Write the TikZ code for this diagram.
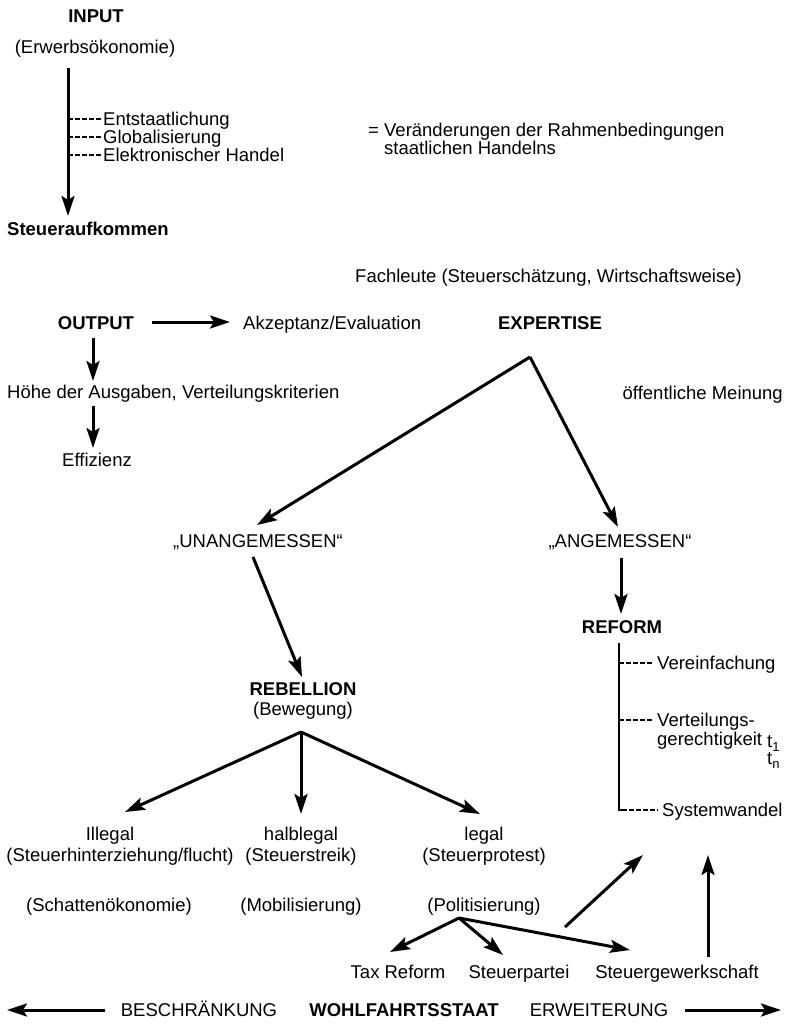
\documentclass[tikz,border=0pt]{standalone}
\usepackage{fontspec}
\setmainfont{Liberation Sans}
\usetikzlibrary{arrows.meta}
\begin{document}
\begin{tikzpicture}[x=1pt,y=-1pt,
  lbl/.style={font=\fontsize{18.5}{22}\selectfont, inner sep=0pt, text height=13.2pt, text depth=0pt},
  bfl/.style={lbl, font=\fontsize{18.5}{22}\selectfont\bfseries},
  arr/.style={line width=3pt, -{Stealth[length=20pt,width=13pt,inset=4pt]}},
  dsh/.style={line width=1.6pt, dash pattern=on 4.5pt off 2.5pt}]
\fill[white] (0,0) rectangle (787,1025);
\useasboundingbox (0,0) rectangle (787,1025);

% ---------- INPUT block
\node[bfl] (input) at (96,16) {INPUT};
\node[lbl] (erwerb) at (95,47) {(Erwerbsökonomie)};
\node[bfl, anchor=west] (steuerauf) at (7,229) {Steueraufkommen};
\coordinate (inS) at (68,68);
\coordinate (inE) at (68,216);
\draw[arr] (inS) -- (inE);
\node[lbl, anchor=west] (ent) at (103,119) {Entstaatlichung};
\node[lbl, anchor=west] (glob) at (103,137) {Globalisierung};
\node[lbl, anchor=west] (elek) at (103,155) {Elektronischer Handel};
\coordinate (b1) at (68,119);
\coordinate (b2) at (68,137);
\coordinate (b3) at (68,155);
\draw[dsh] (b1) -- (ent.west);
\draw[dsh] (b2) -- (glob.west);
\draw[dsh] (b3) -- (elek.west);

\node[lbl, anchor=west] (veraend) at (368,130) {= Veränderungen der Rahmenbedingungen};
\node[lbl, anchor=west] (staatl) at (384,148) {staatlichen Handelns};

% ---------- OUTPUT / EXPERTISE
\node[lbl, anchor=east] (fachleute) at (742,276) {Fachleute (Steuerschätzung, Wirtschaftsweise)};
\node[bfl] (output) at (96,323) {OUTPUT};
\node[lbl, anchor=west] (akzept) at (243,323) {Akzeptanz/Evaluation};
\node[bfl] (expertise) at (550,323) {EXPERTISE};
\coordinate (oS) at (152,322);
\coordinate (oE) at (230,322);
\draw[arr] (oS) -- (oE);
\node[lbl, anchor=west] (hoehe) at (7,392) {Höhe der Ausgaben, Verteilungskriterien};
\node[lbl] (effizienz) at (97,460) {Effizienz};
\coordinate (o1) at (93,338);
\coordinate (o2) at (93,381);
\coordinate (o3) at (93,406);
\coordinate (o4) at (93,448);
\draw[arr] (o1) -- (o2);
\draw[arr] (o3) -- (o4);
\node[lbl, anchor=east] (oeff) at (783,393) {öffentliche Meinung};

\coordinate (expApex) at (530,357);
\node[lbl] (unang) at (258,541) {„UNANGEMESSEN“};
\node[lbl] (ang) at (620,541) {„ANGEMESSEN“};
\coordinate (unTip) at (257,525);
\coordinate (angTip) at (618,527);
\draw[arr] (expApex) -- (unTip);
\draw[arr] (expApex) -- (angTip);

% ---------- REFORM
\node[bfl] (reform) at (622,627) {REFORM};
\coordinate (a1) at (621,558);
\coordinate (a2) at (621,614);
\draw[arr] (a1) -- (a2);
\coordinate (brTop) at (619,643);
\coordinate (brBot) at (619,810);
\draw[line width=2.4pt] (brTop) -- (brBot) -- ++(4,0);
\node[lbl, anchor=west] (verein) at (657,663) {Vereinfachung};
\node[lbl, anchor=west] (verteil) at (657,720) {Verteilungs-};
\node[lbl, anchor=west] (gerecht) at (657,739) {gerechtigkeit};
\node[lbl, anchor=west] (t1) at (767,741) {t\raisebox{-4pt}{\fontsize{13}{14}\selectfont 1}};
\node[lbl, anchor=west] (tn) at (767,758) {t\raisebox{-4pt}{\fontsize{13}{14}\selectfont n}};
\node[lbl, anchor=west] (system) at (662,810) {Systemwandel};
\coordinate (r1) at (619,663);
\coordinate (r2) at (619,720);
\coordinate (r3) at (622,810);
\draw[dsh] (r1) -- ([xshift=-4pt]verein.west);
\draw[dsh] (r2) -- ([xshift=-4pt]verteil.west);
\draw[dsh] (r3) -- ([xshift=-4pt]system.west);

% ---------- REBELLION
\coordinate (unS) at (253,557);
\coordinate (rebTip) at (302,677);
\draw[arr] (unS) -- (rebTip);
\node[bfl] (rebellion) at (303,689) {REBELLION};
\node[lbl] (bewegung) at (303,709) {(Bewegung)};
\coordinate (rebApex) at (301,732);
\coordinate (t1Tip) at (125,812);
\coordinate (t2Tip) at (301,814);
\coordinate (t3Tip) at (480,814);
\draw[arr] (rebApex) -- (t1Tip);
\draw[arr] (rebApex) -- (t2Tip);
\draw[arr] (rebApex) -- (t3Tip);

\node[lbl] (illegal) at (110,834) {Illegal};
\node[lbl] (hinterz) at (120,855) {(Steuerhinterziehung/flucht)};
\node[lbl] (halb) at (301,834) {halblegal};
\node[lbl] (streik) at (301,855) {(Steuerstreik)};
\node[lbl] (legal) at (484,834) {legal};
\node[lbl] (protest) at (484,855) {(Steuerprotest)};
\node[lbl] (schatten) at (109,905) {(Schattenökonomie)};
\node[lbl] (mobil) at (301,905) {(Mobilisierung)};
\node[lbl] (polit) at (484,905) {(Politisierung)};

\coordinate (polApex) at (459,918);
\coordinate (p1Tip) at (390,952);
\coordinate (p2Tip) at (503,955);
\coordinate (p3Tip) at (630,950);
\draw[arr] (polApex) -- (p1Tip);
\draw[arr] (polApex) -- (p2Tip);
\draw[arr] (polApex) -- (p3Tip);
\node[lbl] (taxref) at (398,972) {Tax Reform};
\node[lbl] (partei) at (519,972) {Steuerpartei};
\node[lbl] (gewerk) at (677,972) {Steuergewerkschaft};

\coordinate (u1S) at (565,927);
\coordinate (u1E) at (643,855);
\draw[arr] (u1S) -- (u1E);
\coordinate (u2S) at (708,957);
\coordinate (u2E) at (708,855);
\draw[arr] (u2S) -- (u2E);

% ---------- bottom axis
\node[lbl] (beschr) at (199,1010) {BESCHRÄNKUNG};
\node[bfl] (wohl) at (404,1010) {WOHLFAHRTSSTAAT};
\node[lbl] (erweit) at (599,1010) {ERWEITERUNG};
\coordinate (lS) at (105,1010);
\coordinate (lE) at (7,1010);
\coordinate (rS) at (685,1010);
\coordinate (rE) at (781,1010);
\draw[arr] (lS) -- (lE);
\draw[arr] (rS) -- (rE);
\end{tikzpicture}
\end{document}
